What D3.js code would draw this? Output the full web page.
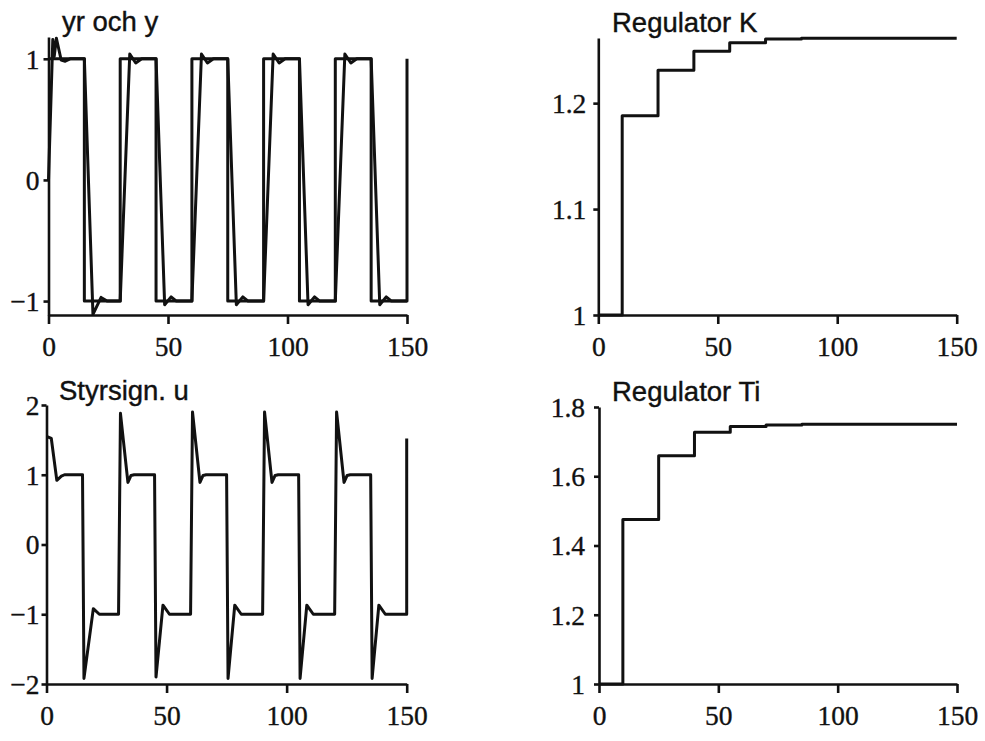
<!DOCTYPE html>
<html>
<head>
<meta charset="utf-8">
<script src="https://cdn.jsdelivr.net/npm/d3@7"></script>
<style>
  html, body { margin: 0; padding: 0; background: #fff; }
  svg { display: block; }
</style>
</head>
<body>
<svg id="chart" width="985" height="741"></svg>
<script>
// ---- Data ----------------------------------------------------------------
// Reference signal yr (square wave)
const yrTime  = [0, 15, 15, 30, 30, 45, 45, 60, 60, 75, 75, 90, 90, 105, 105, 120, 120, 135, 135, 150, 150];
const yrValue = [1, 1, -1, -1, 1, 1, -1, -1, 1, 1, -1, -1, 1, 1, -1, -1, 1, 1, -1, -1, 1];

// Process output y
const yTime  = [0, 1.8, 2.4, 3.3, 5.3, 7, 9, 15,
                18.6, 22, 24.5, 30,
                34, 36.5, 39, 45,
                48.6, 51.3, 53.5, 60,
                64, 66.5, 69, 75,
                78.6, 81.3, 83.5, 90,
                94, 96.5, 99, 105,
                108.6, 111.3, 113.5, 120,
                124, 126.5, 129, 135,
                138.6, 141.3, 143.5, 150];
const yValue = [0, 1.16, 1.02, 1.17, 0.99, 0.98, 1.0, 1.0,
                -1.11, -0.97, -1.0, -1.0,
                1.04, 0.965, 1.0, 1.0,
                -1.03, -0.965, -1.0, -1.0,
                1.04, 0.965, 1.0, 1.0,
                -1.03, -0.965, -1.0, -1.0,
                1.04, 0.965, 1.0, 1.0,
                -1.03, -0.965, -1.0, -1.0,
                1.04, 0.965, 1.0, 1.0,
                -1.03, -0.965, -1.0, -1.0];

// Control signal u
const uTime  = [0, 2, 4.3, 6.2, 7.5, 15,
                15, 15.6, 19.5, 22, 30,
                30, 30.8, 33.9, 35.2, 36.5, 45,
                45, 45.6, 48.5, 51.2, 60,
                60, 60.8, 63.9, 65.2, 66.5, 75,
                75, 75.6, 78.4, 81.1, 90,
                90, 90.8, 93.9, 95.2, 96.5, 105,
                105, 105.6, 108.4, 111.1, 120,
                120, 120.8, 123.9, 125.2, 126.5, 135,
                135, 135.6, 138.4, 141.1, 150,
                150];
const uValue = [1.55, 1.52, 0.92, 0.98, 1.0, 1.0,
                1.0, -1.92, -0.92, -1.0, -1.0,
                -1.0, 1.88, 0.89, 0.99, 1.0, 1.0,
                1.0, -1.9, -0.87, -1.0, -1.0,
                -1.0, 1.9, 0.89, 0.99, 1.0, 1.0,
                1.0, -1.92, -0.87, -1.0, -1.0,
                -1.0, 1.9, 0.89, 0.99, 1.0, 1.0,
                1.0, -1.92, -0.87, -1.0, -1.0,
                -1.0, 1.9, 0.89, 0.99, 1.0, 1.0,
                1.0, -1.92, -0.87, -1.0, -1.0,
                1.52];

// Adapted controller gain K (piecewise constant, value held from each time)
const kTime  = [0, 10, 25, 40, 55, 70, 85, 150];
const kValue = [1.0, 1.188, 1.231, 1.249, 1.257, 1.2605, 1.2613, 1.2613];

// Adapted integral time Ti
const tiTime  = [0, 10, 25, 40, 55, 70, 85, 150];
const tiValue = [1.0, 1.475, 1.659, 1.727, 1.744, 1.748, 1.75, 1.75];

// Axis ticks
const timeTicks = [0, 50, 100, 150];
const yTicks  = [-1, 0, 1];
const kTicks  = [1, 1.1, 1.2];
const uTicks  = [-2, -1, 0, 1, 2];
const tiTicks = [1, 1.2, 1.4, 1.6, 1.8];

// Panel titles
const titles = ["yr och y", "Regulator K", "Styrsign. u", "Regulator Ti"];

// ---- Drawing -------------------------------------------------------------
const svg = d3.select("#chart");
svg.append("rect").attr("width", 985).attr("height", 741).attr("fill", "#fff");

const tickFont  = "'Liberation Serif', 'Times New Roman', serif";
const titleFont = "'Liberation Sans', Arial, Helvetica, sans-serif";
const ink = "#111";

const zip = (ts, vs) => ts.map((t, i) => ({ t, v: vs[i] }));

function panel(cfg) {
  const x = d3.scaleLinear().domain([0, 150]).range([cfg.x0, cfg.x1]);
  const y = d3.scaleLinear().domain(cfg.yDomain).range([cfg.yBot, cfg.yTop]);
  const g = svg.append("g");

  // x axis
  const xAxis = g.append("g")
    .attr("transform", `translate(0,${cfg.yBot})`)
    .call(d3.axisBottom(x).tickValues(timeTicks).tickSize(9).tickSizeOuter(0)
      .tickFormat(d3.format("d")));
  xAxis.selectAll("text")
    .attr("y", 41).attr("dy", null)
    .attr("font-family", tickFont).attr("font-size", 27.5).attr("fill", ink)
    .attr("stroke", ink).attr("stroke-width", 0.35);

  // y axis
  const yAxis = g.append("g")
    .attr("transform", `translate(${cfg.x0},0)`)
    .call(d3.axisLeft(y).tickValues(cfg.ticks).tickSize(5).tickSizeOuter(0)
      .tickFormat(d3.format("~g")));
  yAxis.selectAll("text")
    .attr("x", -cfg.labelGap).attr("dy", "0.34em")
    .attr("font-family", tickFont).attr("font-size", 27.5).attr("fill", ink)
    .attr("stroke", ink).attr("stroke-width", 0.35);

  [xAxis, yAxis].forEach(a => {
    a.select(".domain").attr("stroke", ink).attr("stroke-width", 2.6);
    a.selectAll(".tick line").attr("stroke", ink).attr("stroke-width", 2.6);
  });

  // series
  cfg.series.forEach(s => {
    const line = d3.line().x(d => x(d.t)).y(d => y(d.v))
      .curve(s.step ? d3.curveStepAfter : d3.curveLinear);
    g.append("path")
      .datum(s.data)
      .attr("fill", "none")
      .attr("stroke", ink)
      .attr("stroke-width", 3)
      .attr("stroke-linejoin", "round")
      .attr("d", line);
  });

  // title
  g.append("text")
    .attr("x", cfg.titleX).attr("y", cfg.titleY)
    .attr("font-family", titleFont).attr("font-size", 27.5)
    .attr("fill", ink).attr("stroke", ink).attr("stroke-width", 0.4)
    .text(cfg.title);
}

panel({
  x0: 48.5, x1: 407, yTop: 37, yBot: 315, yDomain: [-1.115, 1.18],
  ticks: yTicks, labelGap: 9, title: titles[0], titleX: 62, titleY: 31,
  series: [{ data: zip(yrTime, yrValue) }, { data: zip(yTime, yValue) }]
});

panel({
  x0: 598.3, x1: 956.7, yTop: 38, yBot: 315, yDomain: [1, 1.2615],
  ticks: kTicks, labelGap: 12, title: titles[1], titleX: 612, titleY: 32,
  series: [{ data: zip(kTime, kValue), step: true }]
});

panel({
  x0: 46.5, x1: 406.7, yTop: 405, yBot: 684, yDomain: [-2, 2],
  ticks: uTicks, labelGap: 7, title: titles[2], titleX: 59, titleY: 400,
  series: [{ data: zip(uTime, uValue) }]
});

panel({
  x0: 599, x1: 957, yTop: 407, yBot: 684, yDomain: [1, 1.8],
  ticks: tiTicks, labelGap: 14, title: titles[3], titleX: 612, titleY: 401,
  series: [{ data: zip(tiTime, tiValue), step: true }]
});
</script>
</body>
</html>
